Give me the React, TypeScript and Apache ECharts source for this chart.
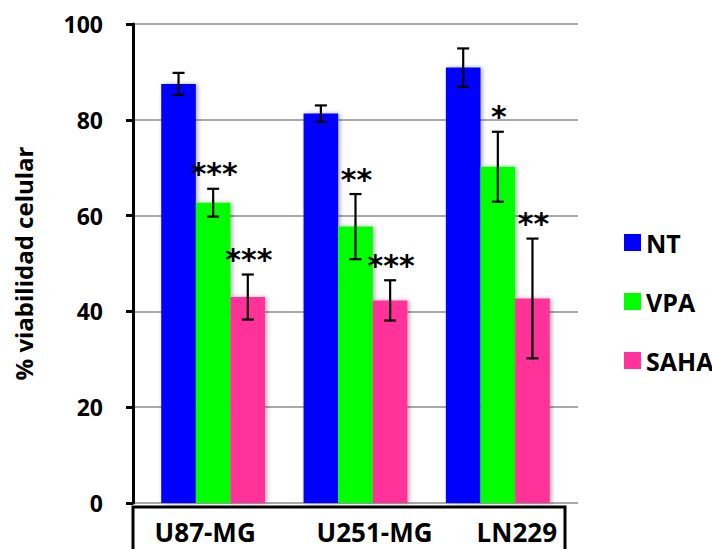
import React, { useEffect, useRef } from "react";
import * as echarts from "echarts";

const categories = ["U87-MG", "U251-MG", "LN229"];
const seriesNames = ["NT", "VPA", "SAHA"];
const ntValues = [87.5, 81.3, 90.9];
const vpaValues = [62.7, 57.7, 70.2];
const sahaValues = [43.0, 42.3, 42.7];
const ntErrors = [2.3, 1.7, 4.0];
const vpaErrors = [2.9, 6.8, 7.3];
const sahaErrors = [4.7, 4.2, 12.5];
const ntSig = ["", "", ""];
const vpaSig = ["***", "**", "*"];
const sahaSig = ["***", "***", "**"];
const yTicks = [0, 20, 40, 60, 80, 100];
const colors = ["#0000FF", "#00FF00", "#FF3399"];

const values = [ntValues, vpaValues, sahaValues];
const errors = [ntErrors, vpaErrors, sahaErrors];
const sigs = [ntSig, vpaSig, sahaSig];

const labelShift = [-8, 19, 19];

export default function App() {
  const ref = useRef<HTMLDivElement>(null);
  useEffect(() => {
    document.body.style.margin = "0";
    const chart = echarts.init(ref.current!, null, { renderer: "svg" });
    const gapPct = 0.27;
    const errSeries = values.map((vals, s) => ({
      type: "custom",
      xAxisIndex: 1,
      yAxisIndex: 1,
      z: 10,
      data: vals.map((v, i) => [i, v, errors[s][i]]),
      renderItem: (params: any, api: any) => {
        const ci = api.value(0);
        const v = api.value(1);
        const e = api.value(2);
        const band = api.size([1, 0])[0];
        const barW = (band * (1 - gapPct)) / 3;
        const center = api.coord([ci, v]);
        const x = center[0] + (s - 1) * barW;
        const top = api.coord([ci, v + e])[1];
        const bot = api.coord([ci, v - e])[1];
        const cap = 6;
        const st = { stroke: "#000", lineWidth: 2.2 };
        const children: any[] = [
          { type: "line", shape: { x1: x, y1: top, x2: x, y2: bot }, style: st },
          { type: "line", shape: { x1: x - cap, y1: top, x2: x + cap, y2: top }, style: st },
          { type: "line", shape: { x1: x - cap, y1: bot, x2: x + cap, y2: bot }, style: st },
        ];
        const sg = sigs[s][ci];
        if (sg) {
          children.push({
            type: "text",
            x: x + 1,
            y: top - 15,
            style: {
              text: sg,
              fill: "#000",
              font: "bold 30px 'DejaVu Sans'",
              align: "center",
              verticalAlign: "middle",
            },
          });
        }
        return { type: "group", children };
      },
    }));

    const richStyles: any = {};
    categories.forEach((c, i) => {
      const d = labelShift[i];
      richStyles["c" + i] = {
        fontFamily: "Open Sans",
        fontWeight: "bold",
        fontSize: 26,
        color: "#000",
        padding: d >= 0 ? [0, 0, 0, 2 * d] : [0, -2 * d, 0, 0],
      };
    });

    chart.setOption({
      animation: false,
      grid: [
        { left: 133, right: 134, top: 24, bottom: 46 },
        { left: 142, right: 143, top: 24, bottom: 46 },
      ],
      legend: {
        orient: "vertical",
        left: 619,
        top: 225,
        itemWidth: 17,
        itemHeight: 17,
        itemGap: 34,
        icon: "rect",
        data: seriesNames,
        itemStyle: { shadowBlur: 0, shadowOffsetX: 0 },
        textStyle: {
          fontFamily: "Open Sans",
          fontWeight: "bold",
          fontSize: 25,
          color: "#000",
          lineHeight: 17,
        },
      },
      xAxis: [
        { type: "value", gridIndex: 0, show: false, min: 0, max: 1 },
        {
          type: "category",
          gridIndex: 1,
          data: categories,
          axisLine: { show: false },
          axisTick: { show: false },
          axisLabel: {
            margin: 16,
            formatter: (val: string) => {
              const i = categories.indexOf(val);
              return "{c" + i + "|" + val + "}";
            },
            rich: richStyles,
          },
        },
      ],
      yAxis: [
        {
          type: "value",
          gridIndex: 0,
          min: 0,
          max: 100,
          interval: 20,
          name: "% viabilidad celular",
          nameLocation: "middle",
          nameGap: 98,
          nameTextStyle: {
            fontFamily: "Open Sans",
            fontWeight: "bold",
            fontSize: 24,
            color: "#000",
          },
          axisLine: { show: true, lineStyle: { color: "#000", width: 3 } },
          axisTick: { show: true, length: 7, lineStyle: { color: "#000", width: 3 } },
          axisLabel: {
            margin: 30,
            fontFamily: "Open Sans",
            fontWeight: "bold",
            fontSize: 23,
            color: "#000",
            formatter: (v: number) => (yTicks.includes(v) ? String(v) : ""),
          },
          splitLine: { show: true, lineStyle: { color: "#8c8c8c", width: 1.6 } },
        },
        { type: "value", gridIndex: 1, min: 0, max: 100, show: false },
      ],
      graphic: [
        {
          type: "rect",
          shape: { x: 133, y: 507, width: 432, height: 80 },
          style: { fill: "none", stroke: "#000", lineWidth: 3 },
          z: 1,
        },
      ],
      series: [
        ...values.map((vals, s) => ({
          type: "bar",
          name: seriesNames[s],
          xAxisIndex: 1,
          yAxisIndex: 1,
          data: vals,
          barGap: "0%",
          barCategoryGap: "27%",
          itemStyle: {
            color: colors[s],
            shadowColor: "rgba(0,0,0,0.3)",
            shadowBlur: 4,
            shadowOffsetX: 2,
          },
        })),
        ...errSeries,
      ],
    });
    return () => chart.dispose();
  }, []);
  return <div ref={ref} style={{ width: 712, height: 549 }} />;
}
